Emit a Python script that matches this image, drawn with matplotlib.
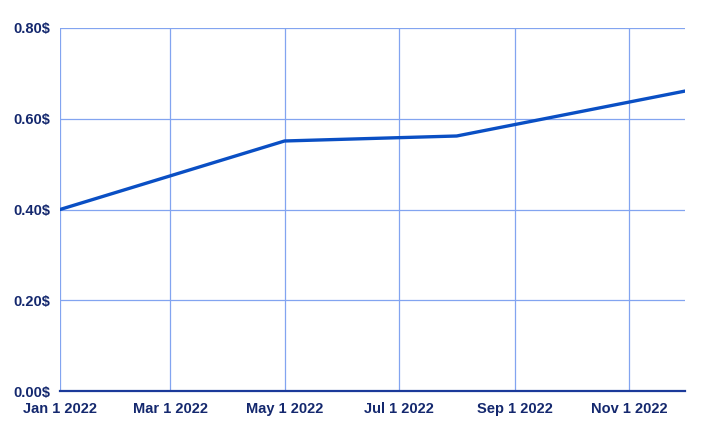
import matplotlib
matplotlib.use("Agg")
import matplotlib.pyplot as plt
from matplotlib.ticker import FuncFormatter
from datetime import date

dates = [date(2022, 1, 1), date(2022, 5, 1), date(2022, 8, 1), date(2022, 12, 1)]
prices = [0.40, 0.551, 0.562, 0.661]
tick_dates = [date(2022, m, 1) for m in (1, 3, 5, 7, 9, 11)]
tick_labels = ["Jan 1 2022", "Mar 1 2022", "May 1 2022", "Jul 1 2022", "Sep 1 2022", "Nov 1 2022"]
y_ticks = [0.0, 0.2, 0.4, 0.6, 0.8]

text_color = "#14286e"
grid_color = "#82a4f0"

plt.rcParams["font.family"] = ["Liberation Sans", "DejaVu Sans"]

fig = plt.figure(figsize=(7.05, 4.32), dpi=100)
ax = fig.add_axes([60 / 705, 1 - 391 / 432, 625 / 705, 363 / 432])

ax.plot(dates, prices, color="#0a4fc4", linewidth=2.4, solid_capstyle="round", zorder=3)

ax.set_xlim(date(2022, 1, 1), date(2022, 12, 1))
ax.set_ylim(0, 0.8)
ax.set_xticks(tick_dates)
ax.set_xticklabels(tick_labels)
ax.set_yticks(y_ticks)
ax.yaxis.set_major_formatter(FuncFormatter(lambda v, p: f"{v:.2f}$"))

ax.grid(True, color=grid_color, linewidth=0.9)
for s in ("top", "right", "left"):
    ax.spines[s].set_visible(False)
ax.spines["bottom"].set_color("#1b3a9a")
ax.spines["bottom"].set_linewidth(1.6)
ax.tick_params(length=0, colors=text_color, labelsize=10.5)
ax.tick_params(axis="x", pad=8)
ax.tick_params(axis="y", pad=7)
for lbl in ax.get_xticklabels() + ax.get_yticklabels():
    lbl.set_fontweight("bold")
    lbl.set_color(text_color)

fig.savefig("out.png", dpi=100)
